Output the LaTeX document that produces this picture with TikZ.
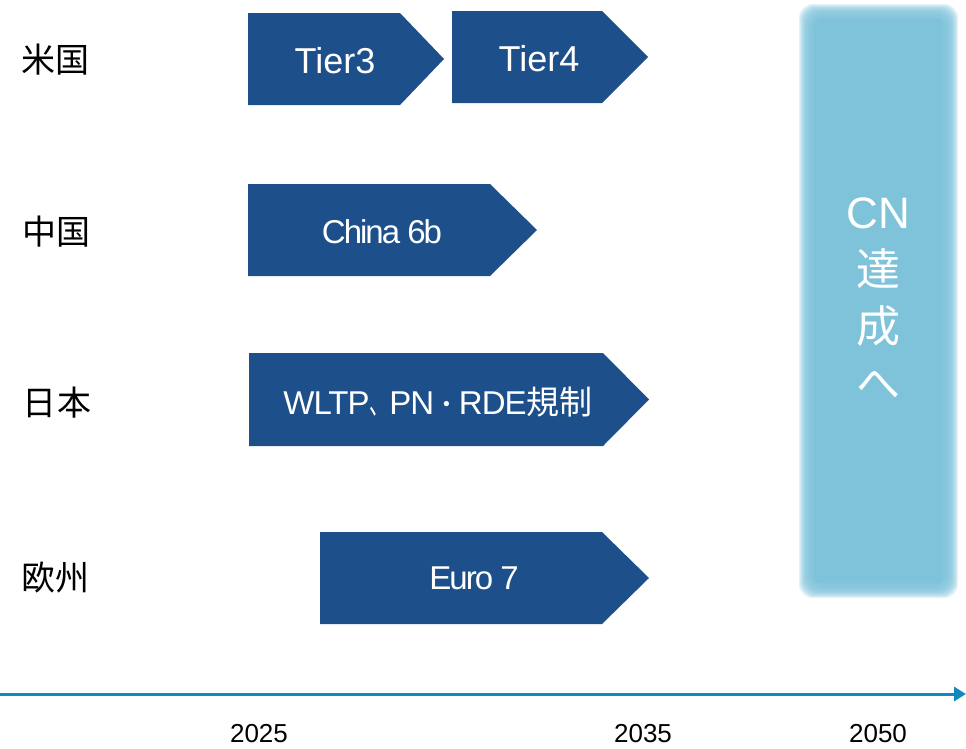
\documentclass[tikz,border=0pt]{standalone}
\usepackage{fontspec}
\setmainfont{Liberation Sans}
\newfontfamily\jp{Noto Sans CJK JP}
\usetikzlibrary{arrows.meta}
\definecolor{navy}{RGB}{29,79,138}
\definecolor{sky}{RGB}{127,195,219}
\definecolor{axisblue}{RGB}{16,138,190}
% pentagon tab: left, top, body end, bottom, tip
\def\tab(#1:#2:#3:#4:#5){\fill[navy] (#1,#2) -- (#3,#2) -- (#5,{(#2+#4)/2}) -- (#3,#4) -- (#1,#4) -- cycle;}

\begin{document}
\begin{tikzpicture}[x=1pt, y=-1pt,
	region/.style={font=\jp\fontsize{34}{40}\selectfont},
	tabtext/.style={white, font=\fontsize{36}{40}\selectfont},
	year/.style={font=\fontsize{26}{30}\selectfont}]
			%%%%% START %%%%%
			\useasboundingbox (0,0) rectangle (966,748);
			
			% soft box on the right
			\foreach \i in {0,...,15}
				\fill[sky, fill opacity=0.2, rounded corners=14pt] ({799+\i},{4+\i}) rectangle ({958-\i},{598-\i});
			\fill[sky, rounded corners=4pt] (814,19) rectangle (943,583);
			\node[white, font=\fontsize{44}{57}\selectfont, align=center] (cn) at (878,299) {CN\\{\jp 達}\\{\jp 成}\\{\jp へ}};
			
			% regions
			\node[region] (us) at (55,60) {米国};
			\node[region] (cn6) at (56,232) {中国};
			\node[region] (jp) at (57,403) {日本};
			\node[region] (eu) at (55,578) {欧州};
			
			% tabs
			\tab(248:13:400:105:444)
			\node[tabtext] (tier3) at (335,61) {Tier3};
			\tab(452:11:602:103:648)
			\node[tabtext] (tier4) at (539,59) {Tier4};
			
			\tab(248:184:490:276:537)
			\node[tabtext, font=\fontsize{33}{40}\selectfont] (china) at (382,232) {\addfontfeature{LetterSpace=-6}China 6b};
			
			\tab(249:353:603:446:649)
			\node[tabtext, font=\fontsize{33}{40}\selectfont] (wltp) at (438,402) {\addfontfeature{LetterSpace=-3}WLTP\scalebox{0.6}[1]{\jp 、}PN\raisebox{1pt}{\scalebox{0.75}{\jp ・}}RDE{\jp 規制}};
			
			\tab(320:532:602:624:649)
			\node[tabtext, font=\fontsize{33}{40}\selectfont] (euro) at (474,578) {\addfontfeature{LetterSpace=-6}Euro 7};
			
			% time axis
			\coordinate (axisL) at (0,694);
			\coordinate (axisR) at (966,694);
			\draw[axisblue, line width=3pt, -{Triangle[length=12pt, width=14pt]}] (axisL) -- (axisR);
			
			\node[year] (y25) at (259,734) {2025};
			\node[year] (y35) at (643,734) {2035};
			\node[year] (y50) at (878,734) {2050};
			
			%%%%% END %%%%%
		\end{tikzpicture}
\end{document}
